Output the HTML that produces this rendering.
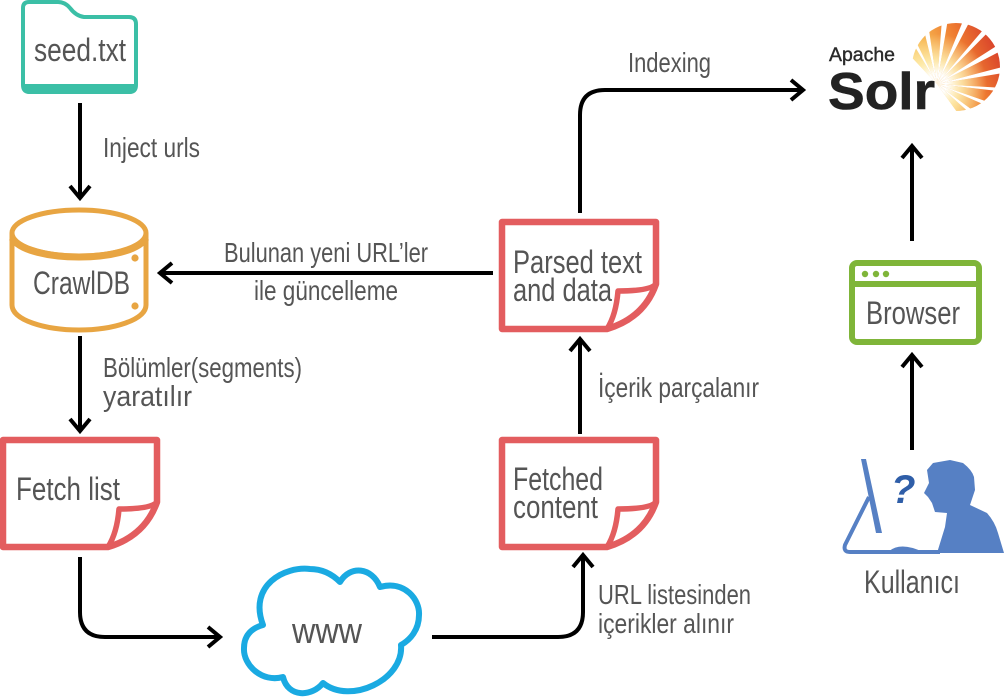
<!DOCTYPE html>
<html><head><meta charset="utf-8"><style>
html,body{margin:0;padding:0;background:#fff}
svg{display:block}
text{font-family:"Liberation Sans",sans-serif;fill:#555}
.a{fill:none;stroke:#000;stroke-width:4}
</style></head><body>
<svg width="1004" height="699" viewBox="0 0 1004 699" xmlns="http://www.w3.org/2000/svg">
<defs>
<g id="paper" fill="none" stroke="#e35d5f" stroke-width="6.5" stroke-linejoin="round">
<path d="M502 222H656V284Q644 318 607 329H502Z" stroke-linejoin="round"/>
<path d="M656 284Q650 291 618 291Q616 315 607 329" stroke-width="5.5"/>
</g>
<linearGradient id="sun" gradientUnits="userSpaceOnUse" x1="912" y1="85" x2="998" y2="45">
<stop offset="0" stop-color="#fbdc80"/><stop offset=".3" stop-color="#f7b650"/><stop offset=".65" stop-color="#ee7a30"/><stop offset="1" stop-color="#d8402b"/>
</linearGradient>
<radialGradient id="fade" gradientUnits="userSpaceOnUse" cx="937" cy="84" r="50">
<stop offset="0" stop-color="#fff"/><stop offset=".2" stop-color="#fff"/><stop offset=".5" stop-color="#fff6c0" stop-opacity=".75"/><stop offset="1" stop-color="#fff6c0" stop-opacity="0"/>
</radialGradient>
<clipPath id="disc"><circle cx="956" cy="67" r="44"/></clipPath>
<clipPath id="rays">
<polygon points="937,84 1017,75 1017,93" transform="rotate(-127 937 84)"/>
<polygon points="937,84 1017,75 1017,93" transform="rotate(-110 937 84)"/>
<polygon points="937,84 1017,75 1017,93" transform="rotate(-92 937 84)"/>
<polygon points="937,84 1017,75 1017,93" transform="rotate(-74 937 84)"/>
<polygon points="937,84 1017,75 1017,93" transform="rotate(-56 937 84)"/>
<polygon points="937,84 1017,75 1017,93" transform="rotate(-39 937 84)"/>
<polygon points="937,84 1017,75 1017,93" transform="rotate(-21 937 84)"/>
<polygon points="937,84 1017,75 1017,93" transform="rotate(-3 937 84)"/>
<polygon points="937,84 1017,75 1017,93" transform="rotate(13 937 84)"/>
<polygon points="937,84 1017,75 1017,93" transform="rotate(30 937 84)"/>
<polygon points="937,84 1017,75 1017,93" transform="rotate(48 937 84)"/>
</clipPath>
</defs>

<!-- seed folder -->
<path d="M23 8Q23 2 29 2H58Q65 2 70 8Q76 16 84 17H129Q136 17 136 24V85Q136 92 129 92H30Q23 92 23 85Z" fill="#fff" stroke="#3bbfa6" stroke-width="4"/>
<path d="M22 84H137V86Q137 94 129 94H30Q22 94 22 86Z" fill="#3bbfa6"/>

<!-- CrawlDB -->
<g fill="none" stroke="#e8a542" stroke-width="5">
<ellipse cx="79" cy="233" rx="67" ry="23"/>
<path d="M12 233V305C12 320 45 330 79 330C113 330 146 320 146 305V233"/>
<path d="M12 238C20 251 50 257 79 257C108 257 138 251 146 238" stroke-width="7"/>
</g>
<circle cx="135" cy="258" r="3.6" fill="#e8a542"/><circle cx="135" cy="306" r="3.6" fill="#e8a542"/>

<!-- papers -->
<use href="#paper"/>
<use href="#paper" y="218"/>
<use href="#paper" x="-499" y="218"/>

<!-- cloud -->
<path d="M263 625C248 585 285 566 310 569C322 569 332 574 340 582C350 565 372 567 380 587C405 580 420 600 419 615C419 630 410 640 401 645C404 680 350 705 323 683C312 697 288 698 283 677C262 683 243 665 244 648C244 635 252 628 263 625Z" fill="#fff" stroke="#1aaae2" stroke-width="6" stroke-linejoin="round"/>

<!-- browser -->
<rect x="852" y="263" width="127" height="79" rx="5" fill="#fff" stroke="#7fb539" stroke-width="6"/>
<rect x="852" y="281" width="127" height="6" fill="#7fb539"/>
<circle cx="865" cy="274" r="3.2" fill="#7fb539"/><circle cx="876" cy="274" r="3.2" fill="#7fb539"/><circle cx="886" cy="274" r="3.2" fill="#7fb539"/>

<!-- person -->
<g fill="#5680c4">
<polygon points="861,459 866,459 882,533 876,533"/>
<path d="M869 497L845 545Q843 552 850 552H940" fill="none" stroke="#5680c4" stroke-width="4"/>
<path d="M888 552Q900 541 923 552Z"/>
<path d="M950 460L963 463Q972 470 974 477L975 490L970 505L987 513Q995 522 998 533L1004 553H937L945 527L947 513L935 512L932 503L928 497L924 493L929 483L927 470L933 463Z"/>
</g>
<text x="891" y="503" font-size="40" font-weight="bold" font-style="italic" style="fill:#2f5ea8">?</text>

<!-- solr -->
<g clip-path="url(#disc)"><g clip-path="url(#rays)"><rect x="900" y="15" width="104" height="100" fill="url(#sun)"/><rect x="900" y="15" width="104" height="100" fill="url(#fade)"/></g></g>
<text x="829" y="61" font-size="19" textLength="66" lengthAdjust="spacingAndGlyphs" style="fill:#2a2a2a;stroke:#2a2a2a;stroke-width:.4">Apache</text>
<text x="828" y="109" font-size="52" font-weight="bold" textLength="107" lengthAdjust="spacingAndGlyphs" style="fill:#222;stroke:#222;stroke-width:.6">Solr</text>

<!-- arrows -->
<path class="a" d="M80 103V198M70 186L80 198L90 186"/>
<path class="a" d="M493 273H160M172 263L160 273L172 283"/>
<path class="a" d="M80 336V431M70 419L80 431L90 419"/>
<path class="a" d="M80 557V612Q80 637 105 637H220M208 627L220 637L208 647"/>
<path class="a" d="M432 637H558Q583 637 583 612V555M573 567L583 555L593 567"/>
<path class="a" d="M580 434V339M570 351L580 339L590 351"/>
<path class="a" d="M580 213V115Q580 90 605 90H803M791 80L803 90L791 100"/>
<path class="a" d="M912 450V355M902 367L912 355L922 367"/>
<path class="a" d="M912 241V146M902 158L912 146L922 158"/>

<!-- labels -->
<text x="34" y="61" font-size="32" textLength="92" lengthAdjust="spacingAndGlyphs">seed.txt</text>
<text x="103" y="157" font-size="28" textLength="97" lengthAdjust="spacingAndGlyphs">Inject urls</text>
<text x="33" y="294" font-size="32" textLength="97" lengthAdjust="spacingAndGlyphs">CrawlDB</text>
<text x="224" y="262" font-size="28" textLength="204" lengthAdjust="spacingAndGlyphs">Bulunan yeni URL’ler</text>
<text x="254" y="300" font-size="28" textLength="144" lengthAdjust="spacingAndGlyphs">ile güncelleme</text>
<text x="103" y="377" font-size="28" textLength="199" lengthAdjust="spacingAndGlyphs">Bölümler(segments)</text>
<text x="103" y="406" font-size="29" textLength="89" lengthAdjust="spacingAndGlyphs">yaratılır</text>
<text x="16" y="500" font-size="32" textLength="104" lengthAdjust="spacingAndGlyphs">Fetch list</text>
<text x="292" y="643" font-size="36" textLength="70" lengthAdjust="spacingAndGlyphs">www</text>
<text x="513" y="490" font-size="32" textLength="90" lengthAdjust="spacingAndGlyphs">Fetched</text>
<text x="513" y="518" font-size="32" textLength="85" lengthAdjust="spacingAndGlyphs">content</text>
<text x="513" y="273" font-size="32" textLength="129" lengthAdjust="spacingAndGlyphs">Parsed text</text>
<text x="513" y="301" font-size="32" textLength="99" lengthAdjust="spacingAndGlyphs">and data</text>
<text x="598" y="397" font-size="28" textLength="161" lengthAdjust="spacingAndGlyphs">İçerik parçalanır</text>
<text x="598" y="604" font-size="28" textLength="153" lengthAdjust="spacingAndGlyphs">URL listesinden</text>
<text x="598" y="633" font-size="28" textLength="136" lengthAdjust="spacingAndGlyphs">içerikler alınır</text>
<text x="628" y="72" font-size="28" textLength="83" lengthAdjust="spacingAndGlyphs">Indexing</text>
<text x="866" y="324" font-size="32" textLength="94" lengthAdjust="spacingAndGlyphs">Browser</text>
<text x="864" y="593" font-size="32" textLength="96" lengthAdjust="spacingAndGlyphs">Kullanıcı</text>
</svg>
</body></html>
